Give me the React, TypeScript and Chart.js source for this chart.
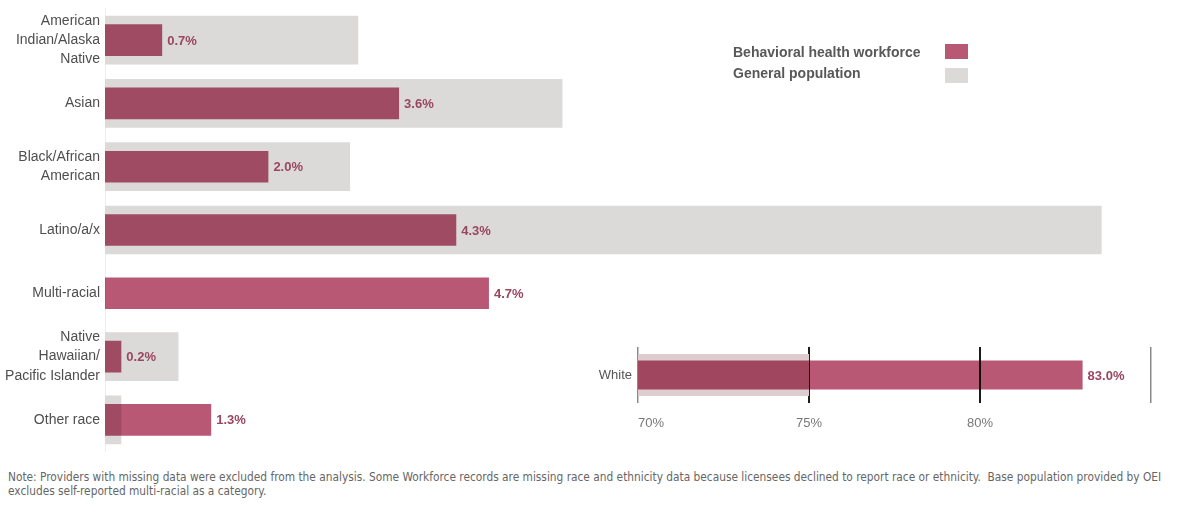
import React, { useEffect, useRef } from "react";
import { Chart, registerables } from "chart.js";

Chart.register(...registerables);

// ---- data ----
const categories: (string | string[])[] = [
  ["American", "Indian/Alaska", "Native"],
  "Asian",
  ["Black/African", "American"],
  "Latino/a/x",
  "Multi-racial",
  ["Native", "Hawaiian/", "Pacific Islander"],
  "Other race",
];
const workforce = [0.7, 3.6, 2.0, 4.3, 4.7, 0.2, 1.3];
const generalPop: (number | null)[] = [3.1, 5.6, 3.0, 12.2, null, 0.9, 0.2];

const whiteCategory = ["White"];
const whiteWorkforce = [83.0];
const whiteGeneral = [75.0];
const whiteTicks = [70, 75, 80, 85];

const seriesNames = ["Behavioral health workforce", "General population"];
const noteLines = [
  "Note: Providers with missing data were excluded from the analysis. Some Workforce records are missing race and ethnicity data because licensees declined to report race or ethnicity.  Base population provided by OEI",
  "excludes self-reported multi-racial as a category.",
];

// ---- styles ----
const PINK = "#b95874";
const GREY = "#dcdad9";
const GREY_W = "#ddcdd0";
const FONT = "'Liberation Sans', Arial, Helvetica, sans-serif";
const LABEL_COLOR = "#9a4660";

const multiplyPlugin = {
  id: "multiplyOverlap",
  beforeDatasetDraw(chart: any, args: any) {
    if (args.index === 0) {
      chart.ctx.save();
      chart.ctx.globalCompositeOperation = "multiply";
    }
  },
  afterDatasetDraw(chart: any, args: any) {
    if (args.index === 0) chart.ctx.restore();
  },
};

const valueLabelPlugin = {
  id: "valueLabels",
  afterDatasetsDraw(chart: any) {
    const meta = chart.getDatasetMeta(0);
    const data = chart.data.datasets[0].data as number[];
    const ctx = chart.ctx;
    ctx.save();
    ctx.font = `bold 13px ${FONT}`;
    ctx.fillStyle = LABEL_COLOR;
    ctx.textAlign = "left";
    ctx.textBaseline = "middle";
    meta.data.forEach((bar: any, i: number) => {
      ctx.fillText(`${data[i].toFixed(1)}%`, bar.x + 5, bar.y + 1);
    });
    ctx.restore();
  },
};

export default function App() {
  const mainRef = useRef<HTMLCanvasElement>(null);
  const insetRef = useRef<HTMLCanvasElement>(null);

  useEffect(() => {
    const main = new Chart(mainRef.current!, {
      type: "bar",
      data: {
        labels: categories,
        datasets: [
          {
            label: seriesNames[0],
            data: workforce,
            backgroundColor: PINK,
            barPercentage: 0.5,
            categoryPercentage: 1,
            grouped: false,
          },
          {
            label: seriesNames[1],
            data: generalPop,
            backgroundColor: GREY,
            barPercentage: 0.77,
            categoryPercentage: 1,
            grouped: false,
          },
        ],
      },
      options: {
        indexAxis: "y",
        animation: false,
        responsive: false,
        devicePixelRatio: 1,
        layout: { padding: { top: 8.5, bottom: 8.5, left: 0, right: 26 } },
        plugins: { legend: { display: false }, tooltip: { enabled: false } },
        scales: {
          x: { display: false, min: 0, max: 13 },
          y: {
            grid: { display: false, drawTicks: false },
            border: { display: true, color: "#eeeeee", width: 1 },
            ticks: {
              padding: 5,
              color: "#4e4e4e",
              font: { family: FONT, size: 14, lineHeight: 1.38 },
            },
            afterFit: (s: any) => {
              s.width = 105;
              s.paddingTop = 0;
              s.paddingBottom = 0;
            },
          },
        },
      },
      plugins: [multiplyPlugin, valueLabelPlugin],
    });

    const inset = new Chart(insetRef.current!, {
      type: "bar",
      data: {
        labels: whiteCategory,
        datasets: [
          {
            label: seriesNames[0],
            data: whiteWorkforce,
            backgroundColor: PINK,
            barPercentage: 0.52,
            categoryPercentage: 1,
            grouped: false,
          },
          {
            label: seriesNames[1],
            data: whiteGeneral,
            backgroundColor: GREY_W,
            barPercentage: 0.75,
            categoryPercentage: 1,
            grouped: false,
          },
        ],
      },
      options: {
        indexAxis: "y",
        animation: false,
        responsive: false,
        devicePixelRatio: 1,
        layout: { padding: { top: 17, bottom: 7, left: 0, right: 29 } },
        plugins: { legend: { display: false }, tooltip: { enabled: false } },
        scales: {
          x: {
            min: whiteTicks[0],
            max: whiteTicks[whiteTicks.length - 1],
            z: 1,
            border: { display: false },
            grid: {
              drawTicks: false,
              color: (c: any) =>
                c.tick && (c.tick.value === 75 || c.tick.value === 80) ? "#1c1c1c" : "#8a8a8a",
              lineWidth: (c: any) =>
                c.tick && (c.tick.value === 75 || c.tick.value === 80) ? 2 : 1.5,
            },
            afterBuildTicks: (s: any) => {
              s.ticks = whiteTicks.map((v) => ({ value: v }));
            },
            ticks: {
              align: "inner",
              padding: 13,
              color: "#777",
              font: { family: FONT, size: 13 },
              callback: (v: any) => (v === 85 ? "" : `${v}%`),
            },
            afterFit: (s: any) => {
              s.height = 30;
            },
          },
          y: {
            grid: { display: false, drawTicks: false },
            border: { display: false },
            ticks: {
              padding: 6,
              color: "#555",
              font: { family: FONT, size: 13 },
            },
            afterFit: (s: any) => {
              s.width = 58;
            },
          },
        },
      },
      plugins: [multiplyPlugin, valueLabelPlugin],
    });

    return () => {
      main.destroy();
      inset.destroy();
    };
  }, []);

  const legendRow = (text: string, top: number) => (
    <div
      style={{
        position: "absolute",
        left: 733,
        top,
        height: 18,
        display: "flex",
        alignItems: "center",
        fontSize: 14,
        fontWeight: "bold",
        color: "#585858",
        whiteSpace: "nowrap",
      }}
    >
      <span>{text}</span>
    </div>
  );

  return (
    <div
      style={{
        position: "absolute",
        left: 0,
        top: 0,
        width: 1193,
        height: 514,
        background: "#fff",
        fontFamily: FONT,
        overflow: "hidden",
      }}
    >
      <canvas
        ref={mainRef}
        width={1193}
        height={460}
        style={{ position: "absolute", left: 0, top: 0 }}
      />
      <canvas
        ref={insetRef}
        width={600}
        height={110}
        style={{ position: "absolute", left: 580, top: 330 }}
      />
      {legendRow(seriesNames[0], 43)}
      {legendRow(seriesNames[1], 64)}
      <div style={{ position: "absolute", left: 945, top: 44, width: 23, height: 15, background: PINK }} />
      <div style={{ position: "absolute", left: 945, top: 68, width: 23, height: 15, background: GREY }} />
      <div
        style={{
          position: "absolute",
          left: 8,
          top: 470,
          fontSize: 11.8,
          lineHeight: "14px",
          color: "#666",
          whiteSpace: "pre",
          fontFamily: "'Liberation Sans Narrow', 'DejaVu Sans Condensed', 'Liberation Sans', sans-serif",
        }}
      >
        {noteLines.map((l, i) => (
          <div key={i}>{l}</div>
        ))}
      </div>
    </div>
  );
}
